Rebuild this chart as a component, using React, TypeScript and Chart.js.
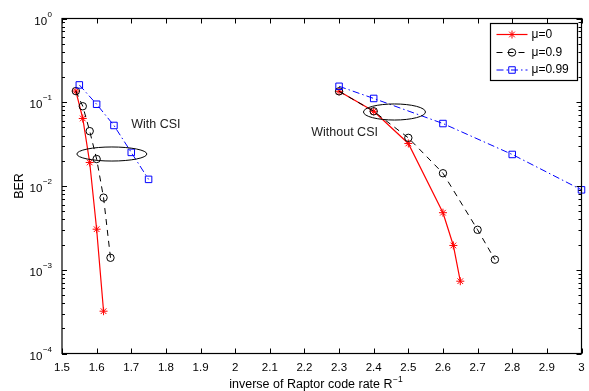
import { useEffect, useRef } from "react";
import { Chart, registerables } from "chart.js";

Chart.register(...registerables);

// ---- data ----
const xTickValues = [1.5, 1.6, 1.7, 1.8, 1.9, 2, 2.1, 2.2, 2.3, 2.4, 2.5, 2.6, 2.7, 2.8, 2.9, 3];
const xTickLabels = ["1.5", "1.6", "1.7", "1.8", "1.9", "2", "2.1", "2.2", "2.3", "2.4", "2.5", "2.6", "2.7", "2.8", "2.9", "3"];
const yDecadeExponents = [0, -1, -2, -3, -4];

// With CSI (left group)
const mu0WithX = [1.54, 1.56, 1.58, 1.6, 1.62];
const mu0WithBER = [0.136, 0.064, 0.0191, 0.00305, 0.00032];
const mu09WithX = [1.54, 1.56, 1.58, 1.6, 1.62, 1.64];
const mu09WithBER = [0.136, 0.0896, 0.0452, 0.021, 0.00726, 0.00139];
const mu099WithX = [1.55, 1.6, 1.65, 1.7, 1.75];
const mu099WithBER = [0.161, 0.0947, 0.0528, 0.0252, 0.012];

// Without CSI (right group)
const mu0WithoutX = [2.3, 2.4, 2.5, 2.6, 2.63, 2.65];
const mu0WithoutBER = [0.135, 0.078, 0.0322, 0.0048, 0.00195, 0.00073];
const mu09WithoutX = [2.3, 2.4, 2.5, 2.6, 2.7, 2.75];
const mu09WithoutBER = [0.135, 0.078, 0.0376, 0.0142, 0.003, 0.00132];
const mu099WithoutX = [2.3, 2.4, 2.6, 2.8, 3.0];
const mu099WithoutBER = [0.155, 0.111, 0.0557, 0.0238, 0.009];

const seriesLabels = ["\u03bc=0", "\u03bc=0.9", "\u03bc=0.99"];

// annotations (data coordinates)
const ellipseCentersX = [1.644, 2.46];
const ellipseCentersBER = [0.0241, 0.0765];
const ellipseHalfWidthX = [0.101, 0.0895];
const ellipseHalfHeightDecades = [0.084, 0.096];
const noteTexts = ["With CSI", "Without CSI"];
const noteX = [1.771, 2.316];
const noteBER = [0.0535, 0.0438];

const FONT = "'Liberation Sans', Arial, Helvetica, sans-serif";

const pts = (xs: number[], ys: number[]) => xs.map((x, i) => ({ x, y: ys[i] }));

const styles = [
  { color: "#ff0000", dash: [] as number[], pointStyle: "star", radius: 4, width: 1.2 },
  { color: "#000000", dash: [6, 5], pointStyle: "circle", radius: 3.7, width: 1 },
  { color: "#0000ff", dash: [7, 3, 1.5, 3], pointStyle: "rect", radius: 4.6, width: 1 },
];

function makeDataset(idx: number, data: { x: number; y: number }[]) {
  const s = styles[idx];
  return {
    label: seriesLabels[idx],
    data,
    borderColor: s.color,
    backgroundColor: "rgba(0,0,0,0)",
    pointBorderColor: s.color,
    pointBackgroundColor: "rgba(0,0,0,0)",
    borderWidth: s.width,
    borderDash: s.dash,
    pointStyle: s.pointStyle,
    pointRadius: s.radius,
    pointBorderWidth: 1,
    tension: 0,
    fill: false,
    clip: false as any,
    order: 2 - idx,
  };
}

function drawMarker(ctx: CanvasRenderingContext2D, style: string, r: number, x: number, y: number) {
  ctx.beginPath();
  if (style === "circle") {
    ctx.arc(x, y, r, 0, Math.PI * 2);
  } else if (style === "rect") {
    const h = r * Math.SQRT1_2;
    ctx.rect(x - h, y - h, 2 * h, 2 * h);
  } else {
    const d = r * Math.SQRT1_2;
    ctx.moveTo(x - r, y);
    ctx.lineTo(x + r, y);
    ctx.moveTo(x, y - r);
    ctx.lineTo(x, y + r);
    ctx.moveTo(x - d, y - d);
    ctx.lineTo(x + d, y + d);
    ctx.moveTo(x - d, y + d);
    ctx.lineTo(x + d, y - d);
  }
  ctx.stroke();
}

const decorPlugin = {
  id: "decor",
  afterDatasetsDraw(chart: any) {
    const ctx = chart.ctx as CanvasRenderingContext2D;
    const xs = chart.scales.x;
    const ys = chart.scales.y;
    const a = chart.chartArea;
    ctx.save();

    // ellipses
    ctx.strokeStyle = "#000";
    ctx.lineWidth = 1;
    ctx.setLineDash([]);
    for (let i = 0; i < ellipseCentersX.length; i++) {
      const cx = xs.getPixelForValue(ellipseCentersX[i]);
      const cy = ys.getPixelForValue(ellipseCentersBER[i]);
      const rx = xs.getPixelForValue(ellipseCentersX[i] + ellipseHalfWidthX[i]) - cx;
      const ry = ys.getPixelForValue(ellipseCentersBER[i] / Math.pow(10, ellipseHalfHeightDecades[i])) - cy;
      ctx.beginPath();
      ctx.ellipse(cx, cy, Math.abs(rx), Math.abs(ry), 0, 0, Math.PI * 2);
      ctx.stroke();
    }

    // notes
    ctx.fillStyle = "#222";
    ctx.font = `12.5px ${FONT}`;
    ctx.textAlign = "center";
    ctx.textBaseline = "middle";
    for (let i = 0; i < noteTexts.length; i++) {
      ctx.fillText(noteTexts[i], xs.getPixelForValue(noteX[i]), ys.getPixelForValue(noteBER[i]));
    }

    // frame
    ctx.strokeStyle = "#000";
    ctx.lineWidth = 1.2;
    ctx.strokeRect(a.left, a.top, a.right - a.left, a.bottom - a.top);

    // x ticks (top & bottom, inward)
    ctx.lineWidth = 1;
    ctx.beginPath();
    for (const v of xTickValues) {
      const px = Math.round(xs.getPixelForValue(v)) + 0.5;
      ctx.moveTo(px, a.bottom);
      ctx.lineTo(px, a.bottom - 5);
      ctx.moveTo(px, a.top);
      ctx.lineTo(px, a.top + 5);
    }
    // y ticks, major + minor, left & right
    for (let k = 0; k < yDecadeExponents.length; k++) {
      const e = yDecadeExponents[k];
      const py = Math.round(ys.getPixelForValue(Math.pow(10, e))) + 0.5;
      ctx.moveTo(a.left, py);
      ctx.lineTo(a.left + 5, py);
      ctx.moveTo(a.right, py);
      ctx.lineTo(a.right - 5, py);
      if (e > -4) {
        for (let m = 2; m <= 9; m++) {
          const my = Math.round(ys.getPixelForValue(m * Math.pow(10, e - 1))) + 0.5;
          ctx.moveTo(a.left, my);
          ctx.lineTo(a.left + 3, my);
          ctx.moveTo(a.right, my);
          ctx.lineTo(a.right - 3, my);
        }
      }
    }
    ctx.stroke();

    // x tick labels
    ctx.fillStyle = "#000";
    ctx.font = `11.5px ${FONT}`;
    ctx.textAlign = "center";
    ctx.textBaseline = "middle";
    xTickValues.forEach((v, i) => {
      ctx.fillText(xTickLabels[i], xs.getPixelForValue(v), a.bottom + 14);
    });

    // y tick labels with superscript exponent
    for (const e of yDecadeExponents) {
      const py = ys.getPixelForValue(Math.pow(10, e));
      const expText = e === 0 ? "0" : "\u2212" + Math.abs(e);
      ctx.font = `8px ${FONT}`;
      const ew = ctx.measureText(expText).width;
      const expX = a.left - 10 - ew;
      ctx.textAlign = "left";
      ctx.textBaseline = "middle";
      ctx.fillText(expText, expX, py - 4);
      ctx.font = `11.5px ${FONT}`;
      ctx.textAlign = "right";
      ctx.fillText("10", expX - 0.5, py + 3);
    }

    // x axis title with superscript
    ctx.font = `12.5px ${FONT}`;
    const main = "inverse of Raptor code rate R";
    const w1 = ctx.measureText(main).width;
    ctx.font = `8.5px ${FONT}`;
    const sup = "\u22121";
    const w2 = ctx.measureText(sup).width;
    const cxTitle = (a.left + a.right) / 2 - 6;
    const sx = cxTitle - (w1 + w2) / 2;
    ctx.textAlign = "left";
    ctx.textBaseline = "middle";
    ctx.font = `12.5px ${FONT}`;
    ctx.fillText(main, sx, a.bottom + 31);
    ctx.font = `8.5px ${FONT}`;
    ctx.fillText(sup, sx + w1 + 0.5, a.bottom + 26);

    // y axis title
    ctx.save();
    ctx.translate(20, (a.top + a.bottom) / 2);
    ctx.rotate(-Math.PI / 2);
    ctx.font = `12.5px ${FONT}`;
    ctx.textAlign = "center";
    ctx.textBaseline = "middle";
    ctx.fillText("BER", 0, 0);
    ctx.restore();

    // legend
    const lx0 = a.right - 91;
    const ly0 = a.top + 5;
    const lw = 87;
    const lh = 57;
    ctx.fillStyle = "#fff";
    ctx.fillRect(lx0, ly0, lw, lh);
    ctx.strokeStyle = "#000";
    ctx.lineWidth = 1.2;
    ctx.setLineDash([]);
    ctx.strokeRect(lx0, ly0, lw, lh);
    const rowsY = [ly0 + 11, ly0 + 29, ly0 + 46.5];
    for (let i = 0; i < 3; i++) {
      const s = styles[i];
      const y = rowsY[i];
      ctx.strokeStyle = s.color;
      ctx.lineWidth = s.width;
      ctx.setLineDash(s.dash);
      ctx.beginPath();
      ctx.moveTo(lx0 + 6, y);
      ctx.lineTo(lx0 + 37, y);
      ctx.stroke();
      ctx.setLineDash([]);
      ctx.lineWidth = 1;
      ctx.strokeStyle = s.color;
      drawMarker(ctx, s.pointStyle, s.radius, lx0 + 21.5, y);
      ctx.fillStyle = "#000";
      ctx.font = `12px ${FONT}`;
      ctx.textAlign = "left";
      ctx.textBaseline = "middle";
      ctx.fillText(seriesLabels[i], lx0 + 41, y);
    }

    ctx.restore();
  },
};

export default function App() {
  const ref = useRef<HTMLCanvasElement | null>(null);

  useEffect(() => {
    document.body.style.margin = "0";
    const canvas = ref.current;
    if (!canvas) return;
    const chart = new Chart(canvas, {
      type: "line",
      data: {
        datasets: [
          makeDataset(0, pts(mu0WithX, mu0WithBER)),
          makeDataset(1, pts(mu09WithX, mu09WithBER)),
          makeDataset(2, pts(mu099WithX, mu099WithBER)),
          makeDataset(0, pts(mu0WithoutX, mu0WithoutBER)),
          makeDataset(1, pts(mu09WithoutX, mu09WithoutBER)),
          makeDataset(2, pts(mu099WithoutX, mu099WithoutBER)),
        ] as any,
      },
      options: {
        responsive: false,
        animation: false,
        layout: { padding: { left: 62, right: 7.5, top: 18.5, bottom: 37.5 } },
        plugins: { legend: { display: false }, tooltip: { enabled: false } },
        scales: {
          x: { type: "linear", min: 1.5, max: 3, display: false },
          y: { type: "logarithmic", min: 1e-4, max: 1, display: false },
        },
      },
      plugins: [decorPlugin],
    });
    return () => chart.destroy();
  }, []);

  return (
    <div style={{ width: 589, height: 391, background: "#fff" }}>
      <canvas ref={ref} width={589} height={391} style={{ display: "block" }} />
    </div>
  );
}
